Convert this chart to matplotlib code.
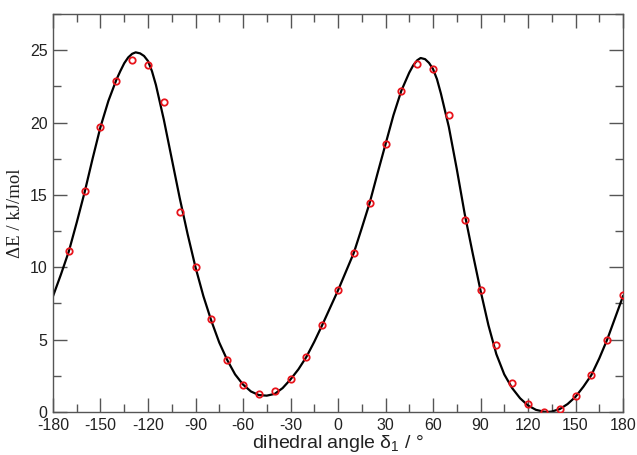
import matplotlib
matplotlib.use("Agg")
import matplotlib.pyplot as plt
from matplotlib.ticker import MultipleLocator

plt.rcParams['axes.unicode_minus'] = False
plt.rcParams['font.family'] = ['Liberation Sans', 'DejaVu Sans']

# Computed points (red circles)
point_angle = [-170, -160, -150, -140, -130, -120, -110, -100, -90, -80, -70, -60, -50, -40,
               -30, -20, -10, 0, 10, 20, 30, 40, 50, 60, 70, 80, 90, 100, 110, 120, 130,
               140, 150, 160, 170, 180]
point_energy = [11.1, 15.26, 19.7, 22.85, 24.3, 24.0, 21.4, 13.8, 10.0, 6.4, 3.6, 1.88, 1.22, 1.45,
                2.27, 3.77, 6.0, 8.41, 11.0, 14.43, 18.5, 22.16, 24.05, 23.68, 20.53, 13.29, 8.41,
                4.64, 2.0, 0.53, 0.0, 0.23, 1.1, 2.55, 4.97, 8.05]

# Fitted curve (black line)
curve_angle = [-180, -175, -170, -165, -160, -155, -150, -145, -140, -137.5, -135, -132.5, -130,
               -127.8, -125, -122.5, -120, -117.5, -115, -110, -105, -100, -95, -90, -85, -80,
               -75, -70, -65, -60, -55, -50, -45, -40, -35, -30, -25, -20, -15, -10, -5, 0, 5,
               10, 15, 20, 25, 30, 35, 40, 45, 47.5, 50, 52.2, 55, 57.5, 60, 62.5, 65, 70, 75,
               80, 85, 90, 95, 100, 105, 110, 115, 120, 125, 130, 132, 135, 140, 145, 150, 155,
               160, 165, 170, 175, 180]
curve_energy = [8.0, 9.5, 11.1, 13.1, 15.2, 17.5, 19.7, 21.5, 22.95, 23.55, 24.1, 24.5, 24.75,
                24.85, 24.78, 24.6, 24.25, 23.55, 22.6, 20.2, 17.5, 14.8, 12.3, 10.0, 8.0, 6.3,
                4.8, 3.6, 2.6, 1.9, 1.42, 1.17, 1.13, 1.25, 1.65, 2.25, 2.95, 3.8, 4.85, 6.0, 7.2,
                8.4, 9.7, 11.0, 12.7, 14.45, 16.5, 18.5, 20.5, 22.2, 23.45, 23.95, 24.3, 24.46,
                24.38, 24.12, 23.7, 23.0, 22.0, 19.7, 16.8, 13.7, 11.0, 8.4, 6.0, 4.0, 2.6, 1.65,
                0.95, 0.45, 0.15, 0.02, 0.0, 0.03, 0.2, 0.55, 1.05, 1.75, 2.55, 3.7, 5.0, 6.5, 8.0]

x_ticks = [-180, -150, -120, -90, -60, -30, 0, 30, 60, 90, 120, 150, 180]
y_ticks = [0, 5, 10, 15, 20, 25]

fig = plt.figure(figsize=(6.37, 4.55), dpi=100)
ax = fig.add_axes([53 / 637, 43 / 455, 570 / 637, 398 / 455])

ax.plot(curve_angle, curve_energy, color='black', lw=1.6, zorder=2)
ax.plot(point_angle, point_energy, linestyle='none', marker='o', markersize=4.6,
        markerfacecolor='none', markeredgecolor='#e8141c', markeredgewidth=1.3, zorder=3)

ax.set_xlim(-180, 180)
ax.set_ylim(0, 27.5)
ax.set_xticks(x_ticks)
ax.set_yticks(y_ticks)
ax.xaxis.set_minor_locator(MultipleLocator(15))
ax.yaxis.set_minor_locator(MultipleLocator(2.5))
ax.tick_params(which='both', direction='in', top=True, right=True, color='#555555', width=1.0,
               labelsize=11.5, labelcolor='#222222')
ax.tick_params(which='major', length=10, pad=4)
ax.tick_params(which='minor', length=6)
for s in ax.spines.values():
    s.set_color('#555555')
    s.set_linewidth(1.0)

ax.set_xlabel('dihedral angle δ$_\\mathregular{1}$ / °', fontsize=14, labelpad=0,
              color='#222222')
ax.set_ylabel('ΔE / kJ/mol', fontsize=13.5, family=['Liberation Serif', 'DejaVu Serif'],
              labelpad=4, color='#222222')

fig.savefig('out.png', dpi=100)
